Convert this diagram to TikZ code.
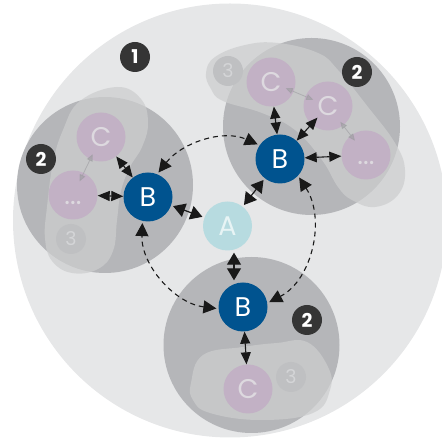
\documentclass[tikz,border=0pt]{standalone}
\usepackage{fontspec}
\setmainfont{Poppins}
\usetikzlibrary{arrows.meta}
\definecolor{bgcirc}{HTML}{E6E7E8}
\definecolor{grpcirc}{HTML}{B5B6B9}
\definecolor{blobc}{HTML}{CDCECF}
\definecolor{cfill}{HTML}{C2B1C5}
\definecolor{ctext}{HTML}{DDD9DF}
\definecolor{tfill}{HTML}{BFC0C2}
\definecolor{ttext}{HTML}{D4D5D7}
\definecolor{afill}{HTML}{B7DBE0}
\definecolor{atext}{HTML}{E8F4F5}
\definecolor{bfill}{HTML}{00538F}
\definecolor{badge}{HTML}{353535}
\definecolor{garrow}{HTML}{9C9CA0}
\begin{document}
\begin{tikzpicture}[x=1pt,y=1pt,
  bigc/.style={circle, minimum size=49pt, inner sep=0pt, font=\fontsize{27}{27}\selectfont},
  bnode/.style={bigc, fill=bfill, text=white},
  anode/.style={bigc, fill=afill, text=atext},
  cnode/.style={bigc, fill=cfill, text=ctext},
  tnode/.style={circle, minimum size=30pt, inner sep=0pt, fill=tfill, text=ttext, font=\fontsize{19}{19}\selectfont},
  numbadge/.style={circle, minimum size=30pt, inner sep=0pt, fill=badge, text=white, font=\fontsize{19}{19}\selectfont\bfseries},
  blob/.style={fill=blobc, fill opacity=0.72},
  arrAB/.style={{Triangle[length=12pt,width=14pt]}-{Triangle[length=12pt,width=14pt]}, line width=1.2pt, black!90, shorten <=2pt, shorten >=2pt},
  arrBC/.style={{Triangle[length=12pt,width=10pt]}-{Triangle[length=12pt,width=10pt]}, line width=1.1pt, black!90},
  arrGray/.style={{Triangle[length=7pt,width=6pt]}-{Triangle[length=7pt,width=6pt]}, line width=0.8pt, garrow, opacity=0.6},
  arrDash/.style={{Triangle[length=13pt,width=13pt]}-{Triangle[length=13pt,width=13pt]}, line width=1.1pt, black!90, dash pattern=on 5pt off 4pt, shorten <=2pt, shorten >=2pt}
]
\useasboundingbox (0,0) rectangle (442,441);
\clip (0,0) rectangle (442,441);
% level 1
\fill[bgcirc] (230,220.5) circle (217);
% level 2 groups
\fill[grpcirc] (105,256) circle (88);
\fill[grpcirc] (311.5,314.5) circle (88.5);
\fill[grpcirc] (251.5,96) circle (88);
% level 3 blobs
\fill[blob] plot[smooth cycle, tension=0.7] coordinates {(117,354) (141,342) (148,318) (142,294) (130,274) (121,250) (117,221) (113,190) (98,172) (72,168) (52,180) (45,203) (47,234) (53,278) (63,311) (80,340)};
\fill[blob] plot[smooth cycle, tension=0.7] coordinates {(206,368) (215,384) (245,396) (278,398) (318,388) (338,371) (368,334) (395,298) (405,271) (398,246) (375,234) (352,241) (338,254) (322,281) (295,311) (262,328) (223,340) (211,352)};
\fill[blob] plot[smooth cycle, tension=0.7] coordinates {(191,58) (203,86) (243,94) (277,98) (307,99) (328,74) (330,51) (313,28) (260,21) (210,28) (193,41)};
% C level nodes
\node[cnode] (Cl) at (101,304) {C};
\node[cnode] (Dl) at (73,246) {\vphantom{C}...};
\node[tnode] (Tl) at (71,202) {3};
\node[cnode] (C1) at (271,359) {C};
\node[cnode] (C2) at (328,335) {C};
\node[cnode] (Dtr) at (366,286) {\vphantom{C}...};
\node[tnode] (Ttr) at (228,370) {3};
\node[cnode] (Cb) at (248,52) {C};
\node[tnode] (Tb) at (291,64) {3};
% faint arrows between C-level nodes
\draw[arrGray, shorten <=19pt, shorten >=15pt] (Cl.center) -- (Dl.center);
\draw[arrGray, shorten <=16pt, shorten >=16pt] (C1.center) -- (C2.center);
\draw[arrGray, shorten <=20pt, shorten >=18pt] (C2.center) -- (Dtr.center);
% B and A nodes
\node[anode] (A) at (227.5,215) {A};
\node[bnode] (Bl) at (148,244) {B};
\node[bnode] (Btr) at (280,282) {B};
\node[bnode] (Bb) at (243,134) {B};
% badges
\node[numbadge] (N1) at (135,384) {1};
\node[numbadge] (Nl) at (41,282) {2};
\node[numbadge] (Ntr) at (357,369) {2};
\node[numbadge] (Nb) at (307,121) {2};
% A to B arrows
\draw[arrAB] (Bl) -- (A);
\draw[arrAB] (Btr) -- (A);
\draw[arrAB] ([xshift=6.5pt]A.south) -- ([xshift=-9pt]Bb.north);
% B to C arrows
\draw[arrBC] (Bl) -- (Cl);
\draw[arrBC] (Bl) -- (Dl);
\draw[arrBC] (Btr) -- (C1);
\draw[arrBC, shorten >=-9pt] (Btr) -- (C2);
\draw[arrBC] (Btr) -- (Dtr);
\draw[arrBC] (Bb) -- (Cb);
% dashed arcs between B nodes
\draw[arrDash] (Bl.68) to[out=52, in=156, distance=40pt] (Btr.146);
\draw[arrDash] (Btr.-43) to[out=-57, in=27.5, distance=51pt] (Bb.9);
\draw[arrDash] (Bb.184) to[out=173, in=-92, distance=44pt] (Bl.-103);
\end{tikzpicture}
\end{document}
